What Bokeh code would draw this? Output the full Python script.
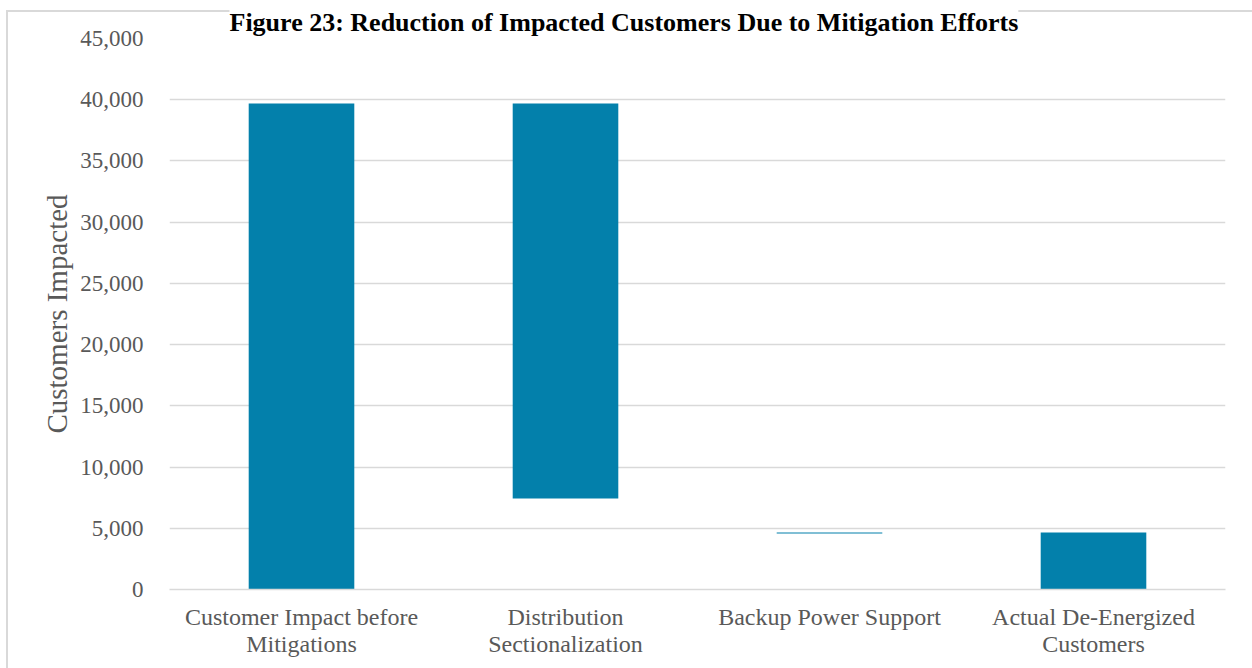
from bokeh.plotting import figure
from bokeh.models import Range1d, FixedTicker, NumeralTickFormatter, Title, ColumnDataSource
from bokeh.embed import file_html
from bokeh.resources import INLINE

categories = ["Customer Impact before\nMitigations", "Distribution\nSectionalization",
              "Backup Power Support", "Actual De-Energized\nCustomers"]
bar_top = [39700, 39700, 4660, 4660]
bar_bottom = [0, 7430, 4570, 0]
y_ticks = [0, 5000, 10000, 15000, 20000, 25000, 30000, 35000, 40000, 45000]
title_text = "Figure 23: Reduction of Impacted Customers Due to Mitigation Efforts"
y_label = "Customers Impacted"

FONT = "Liberation Serif"
GRAY = "#595959"
GRID = "#d9d9d9"

p = figure(width=1252, height=668, x_range=categories, y_range=Range1d(0, 45000),
           output_backend="svg", toolbar_location=None,
           min_border_left=169, min_border_right=27, min_border_top=38, min_border_bottom=79)
p.outline_line_color = None
p.background_fill_color = "white"
p.border_fill_color = None
p.styles = {
    "background": "linear-gradient(#d9d9d9,#d9d9d9) 6px 10px / 2px 100% no-repeat, "
                  "linear-gradient(#d9d9d9,#d9d9d9) 6px 10px / 100% 2px no-repeat, white"
}

p.title = Title(text=title_text, align="left", offset=60, vertical_align="top", standoff=0,
                text_font=FONT, text_font_style="bold", text_font_size="26px",
                text_color="black", background_fill_color="white")

src = ColumnDataSource(dict(x=categories, top=bar_top, bottom=bar_bottom))
p.vbar(x="x", top="top", bottom="bottom", width=0.40, source=src, color="#0380AB", line_color=None)

p.xgrid.grid_line_color = None
p.ygrid.grid_line_color = GRID
p.ygrid.grid_line_width = 1.5

p.yaxis.ticker = FixedTicker(ticks=y_ticks)
p.yaxis.formatter = NumeralTickFormatter(format="0,0")
p.yaxis.axis_line_color = None
p.yaxis.major_tick_line_color = None
p.yaxis.minor_tick_line_color = None
p.yaxis.major_label_text_font = FONT
p.yaxis.major_label_text_font_size = "23px"
p.yaxis.major_label_text_color = GRAY
p.yaxis.major_label_standoff = 20
p.yaxis.axis_label = y_label
p.yaxis.axis_label_text_font = FONT
p.yaxis.axis_label_text_font_size = "29px"
p.yaxis.axis_label_text_font_style = "normal"
p.yaxis.axis_label_text_color = GRAY
p.yaxis.axis_label_standoff = 4

p.xaxis.axis_line_color = GRID
p.xaxis.axis_line_width = 1.5
p.xaxis.major_tick_line_color = None
p.xaxis.minor_tick_line_color = None
p.xaxis.major_label_text_font = FONT
p.xaxis.major_label_text_font_size = "24px"
p.xaxis.major_label_text_color = GRAY
p.xaxis.major_label_standoff = 8
p.xaxis.major_label_text_line_height = 1.05

open("out.html", "w").write(file_html(p, INLINE))
